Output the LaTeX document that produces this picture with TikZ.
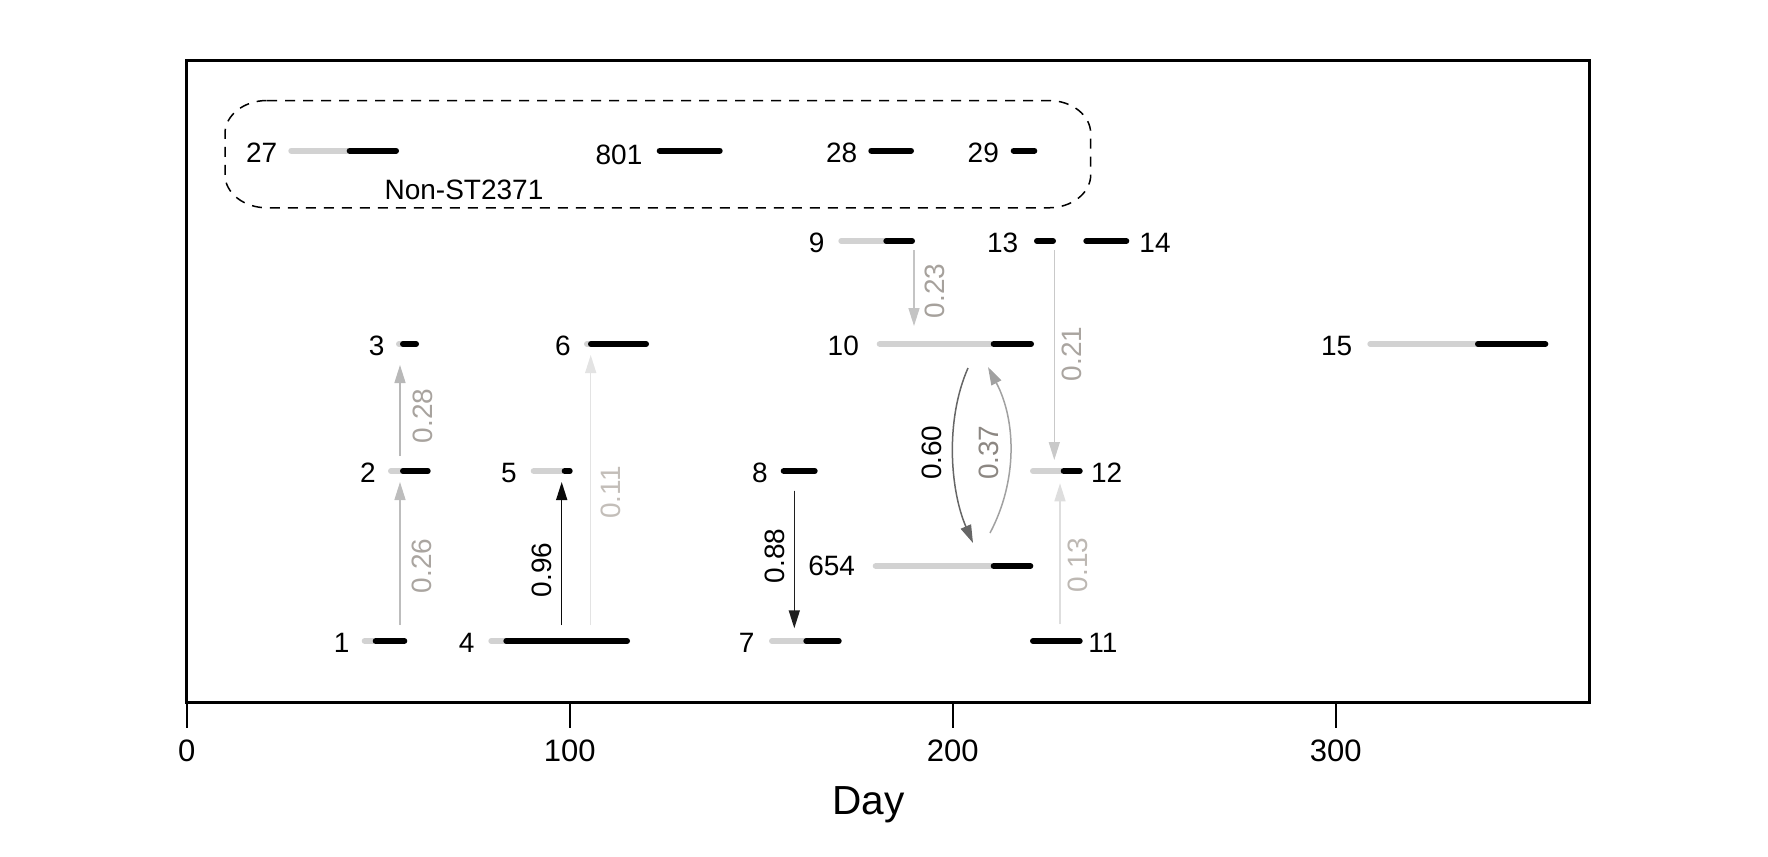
\documentclass[tikz,border=0pt]{standalone}
\usepackage{fontspec}
\setmainfont{Liberation Sans}
\usetikzlibrary{arrows.meta}
\definecolor{barg}{HTML}{D2D2D2}
\definecolor{l26}{HTML}{AAA5A0}
\definecolor{l28}{HTML}{A8A39E}
\definecolor{l11}{HTML}{C3BEB9}
\definecolor{l13}{HTML}{BDB8B3}
\definecolor{l23}{HTML}{A6A19C}
\definecolor{l21}{HTML}{AAA5A0}
\definecolor{l37}{HTML}{8C8782}
\begin{document}
\begin{tikzpicture}[x=0.5pt,y=-0.5pt,
  lab/.style={font=\fontsize{14}{16}\selectfont, inner sep=0pt, text depth=0pt, anchor=center},
  elab/.style={lab, rotate=90},
  ticklab/.style={font=\fontsize{15.5}{18}\selectfont, inner sep=0pt, text depth=0pt, anchor=center},
  gbar/.style={line width=3pt, line cap=round, draw=barg},
  kbar/.style={line width=3pt, line cap=round, draw=black},
  edge/.style={line width=0.75pt, -{Triangle[length=9pt,width=5.5pt]}},
  frame/.style={line width=1.5pt, draw=black},
  tick/.style={line width=1pt, draw=black},
  grp/.style={line width=0.75pt, dash pattern=on 5pt off 4pt}]
\useasboundingbox (0,0) rectangle (1768,857);

% frame and axis
\draw[frame] (186.7,60.7) rectangle (1589.3,702.3);
\foreach \d/\t in {0/t0,100/t100,200/t200,300/t300}{
  \coordinate (\t a) at ({186.7+3.83*\d},702.3);
  \coordinate (\t b) at ({186.7+3.83*\d},728.3);
  \draw[tick] (\t a) -- (\t b);
  \node[ticklab] (\t l) at ({186.7+3.83*\d},751) {\d};
}
\node[lab, font=\fontsize{20.3}{24}\selectfont] (xlab) at (868.3,800.5) {Day};

% Non-ST2371 group
\coordinate (g1) at (267,100.5);
\coordinate (g2) at (1048.7,100.5);
\coordinate (g3) at (1090.7,133.5);
\coordinate (g4) at (1090.7,174.8);
\coordinate (g5) at (1048.7,207.8);
\coordinate (g6) at (267,207.8);
\coordinate (g7) at (225,174.8);
\coordinate (g8) at (225,133.5);
\draw[grp] (g1) -- (g2) .. controls (1071.9,100.5) and (1090.7,115.3) .. (g3)
  -- (g4) .. controls (1090.7,193) and (1071.9,207.8) .. (g5)
  -- (g6) .. controls (243.8,207.8) and (225,193) .. (g7)
  -- (g8) .. controls (225,115.3) and (243.8,100.5) .. cycle;
\node[lab] (grplab) at (464,189.3) {Non-ST2371};

% row y = 150.7
\node[lab] (n27) at (261.7,152.5) {27};
\draw[gbar] (291.3,150.7) -- (396,150.7);
\draw[kbar] (349.7,150.7) -- (396,150.7);
\node[lab] (n801) at (619,155) {801};
\draw[kbar] (659.7,150.7) -- (719.7,150.7);
\node[lab] (n28) at (841.7,152.5) {28};
\draw[kbar] (871.3,150.7) -- (911,150.7);
\node[lab] (n29) at (983.3,152.5) {29};
\draw[kbar] (1013.7,150.7) -- (1034.3,150.7);

% row y = 241
\node[lab] (n9) at (816.7,243) {9};
\draw[gbar] (841.3,241) -- (912,241);
\draw[kbar] (886.3,241) -- (912,241);
\node[lab] (n13) at (1002.7,243) {13};
\draw[kbar] (1037,241) -- (1053,241);
\draw[kbar] (1086.3,241) -- (1126.3,241);
\node[lab] (n14) at (1155,243) {14};

% row y = 344
\node[lab] (n3) at (376.7,345.5) {3};
\draw[gbar] (399,344) -- (416,344);
\draw[kbar] (403,344) -- (416,344);
\node[lab] (n6) at (563,345.5) {6};
\draw[gbar] (587,344) -- (646,344);
\draw[kbar] (591,344) -- (646,344);
\node[lab] (n10) at (843.3,346) {10};
\draw[gbar] (879.7,344) -- (1031,344);
\draw[kbar] (993.7,344) -- (1031,344);
\node[lab] (n15) at (1336.7,346) {15};
\draw[gbar] (1370.3,344) -- (1545.3,344);
\draw[kbar] (1478,344) -- (1545.3,344);

% row y = 471
\node[lab] (n2) at (368,472.5) {2};
\draw[gbar] (391,471) -- (427.7,471);
\draw[kbar] (403,471) -- (427.7,471);
\node[lab] (n5) at (509,472.5) {5};
\draw[gbar] (533.7,471) -- (569.7,471);
\draw[kbar] (564.7,471) -- (569.7,471);
\node[lab] (n8) at (760,472.5) {8};
\draw[kbar] (783.7,471) -- (814.7,471);
\draw[gbar] (1033,471) -- (1079.7,471);
\draw[kbar] (1063.7,471) -- (1079.7,471);
\node[lab] (n12) at (1106.7,472.5) {12};

% row y = 566
\node[lab] (n654) at (831.7,566) {654};
\draw[gbar] (875.7,566) -- (1030.3,566);
\draw[kbar] (993.7,566) -- (1030.3,566);

% row y = 641
\node[lab] (n1) at (341.7,643) {1};
\draw[gbar] (364.7,641) -- (404.3,641);
\draw[kbar] (375.7,641) -- (404.3,641);
\node[lab] (n4) at (466.7,643) {4};
\draw[gbar] (491.3,641) -- (627,641);
\draw[kbar] (506.3,641) -- (627,641);
\node[lab] (n7) at (746.7,643) {7};
\draw[gbar] (772,641) -- (838.7,641);
\draw[kbar] (806.3,641) -- (838.7,641);
\draw[kbar] (1033,641) -- (1079.7,641);
\node[lab] (n11) at (1103,643) {11};

% transitions
\coordinate (a12s) at (400,625);   \coordinate (a12e) at (400,482);
\coordinate (a23s) at (400,456);   \coordinate (a23e) at (400,365);
\coordinate (a45s) at (561.7,625); \coordinate (a45e) at (561.7,482);
\coordinate (a46s) at (590.7,625); \coordinate (a46e) at (590.7,355);
\coordinate (a87s) at (794.3,490.7); \coordinate (a87e) at (794.3,628.3);
\coordinate (a910s) at (914,250);  \coordinate (a910e) at (914,326);
\coordinate (a1312s) at (1054.3,250); \coordinate (a1312e) at (1054.3,460);
\coordinate (a1112s) at (1060,624.3); \coordinate (a1112e) at (1060,483.3);
\coordinate (a10bs) at (968,368);  \coordinate (a10be) at (973,543);
\coordinate (ab10s) at (990,533);  \coordinate (ab10e) at (988,367);

\draw[edge, draw=black!26, fill=black!26] (a12s) -- (a12e);
\draw[edge, draw=black!28, fill=black!28] (a23s) -- (a23e);
\draw[edge, draw=black!96, fill=black!96] (a45s) -- (a45e);
\draw[edge, draw=black!11, fill=black!11] (a46s) -- (a46e);
\draw[edge, draw=black!88, fill=black!88] (a87s) -- (a87e);
\draw[edge, draw=black!23, fill=black!23] (a910s) -- (a910e);
\draw[edge, draw=black!21, fill=black!21] (a1312s) -- (a1312e);
\draw[edge, draw=black!13, fill=black!13] (a1112s) -- (a1112e);
\draw[edge, draw=black!60] (a10bs) .. controls (945,420) and (950,490) .. (a10be);
\draw[edge, draw=black!37] (ab10s) .. controls (1018,480) and (1016,420) .. (ab10e);

\node[elab, text=l26] (w12) at (421.3,566) {0.26};
\node[elab, text=l28] (w23) at (422.5,416) {0.28};
\node[elab, text=black] (w45) at (542.2,570) {0.96};
\node[elab, text=l11] (w46) at (610.8,492.5) {0.11};
\node[elab, text=black] (w87) at (775,556) {0.88};
\node[elab, text=l23] (w910) at (934.5,291) {0.23};
\node[elab, text=l21] (w1312) at (1072.2,354) {0.21};
\node[elab, text=l13] (w1112) at (1077.5,565) {0.13};
\node[elab, text=black] (w10b) at (931.7,452.7) {0.60};
\node[elab, text=l37] (wb10) at (989.2,452.7) {0.37};
\end{tikzpicture}
\end{document}
